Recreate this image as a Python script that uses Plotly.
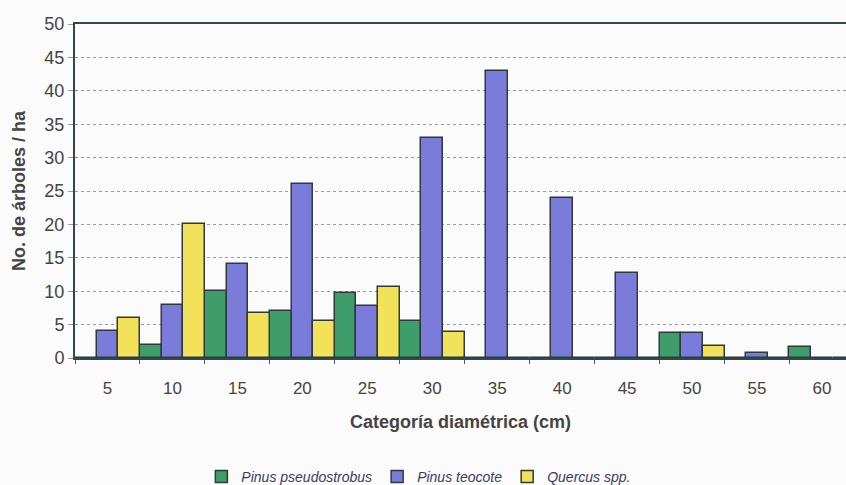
import plotly.graph_objects as go

categories = ["5", "10", "15", "20", "25", "30", "35", "40", "45", "50", "55", "60"]
pinus_pseudostrobus = [0, 2, 10, 7, 9.7, 5.6, 0, 0, 0, 3.8, 0, 1.7]
pinus_teocote = [4, 8, 14, 26, 7.8, 33, 43, 24, 12.7, 3.8, 0.7, 0]
quercus_spp = [6, 20, 6.8, 5.6, 10.6, 3.9, 0, 0, 0, 1.8, 0, 0]

series_names = ["<i>Pinus pseudostrobus</i>", "<i>Pinus teocote</i>", "<i>Quercus spp.</i>"]
series_colors = ["#3f9d6c", "#7b7bd9", "#f1e25a"]

fig = go.Figure()
for name, vals, col in zip(series_names, [pinus_pseudostrobus, pinus_teocote, quercus_spp], series_colors):
    fig.add_trace(go.Bar(
        x=categories, y=vals, name=name,
        marker=dict(color=col, line=dict(color="#2f3a3a", width=1.5)),
    ))

font_family = "Liberation Sans, Arial, sans-serif"
fig.update_layout(
    width=846, height=485,
    margin=dict(l=75, r=0, t=24, b=127, autoexpand=False),
    paper_bgcolor="#fbfbfb", plot_bgcolor="#fbfbfb",
    barmode="group", bargap=0, bargroupgap=0,
    font=dict(family=font_family, color="#444444", size=15),
    showlegend=True,
    legend=dict(orientation="h", x=0.446, xanchor="center", y=-0.356, yanchor="middle",
                font=dict(size=14, color="#3a3a6a"), itemwidth=30, tracegroupgap=0,
                bgcolor="rgba(0,0,0,0)"),
    xaxis=dict(
        type="category", range=[-0.5, 11.37], automargin=False,
        showline=True, linecolor="#2f4a4a", linewidth=2, mirror=True,
        ticks="outside", ticklen=4, tickcolor="#555", tickson="boundaries",
        ticklabelstandoff=14,
        tickfont=dict(size=17, color="#444"),
        showgrid=False,
        title=dict(text="<b>Categoría diamétrica (cm)</b>", font=dict(size=18, color="#444"), standoff=18),
    ),
    yaxis=dict(
        range=[0, 50], dtick=5, automargin=False,
        showline=True, linecolor="#2f4a4a", linewidth=2,
        ticks="outside", ticklen=5, tickcolor="#999",
        tickfont=dict(size=18, color="#444"),
        showgrid=True, gridcolor="#999999", griddash="dot", gridwidth=1,
        zeroline=False,
        title=dict(text="<b>No. de árboles / ha</b>", font=dict(size=18, color="#444"), standoff=14),
    ),
)

fig.write_html("out.html")
